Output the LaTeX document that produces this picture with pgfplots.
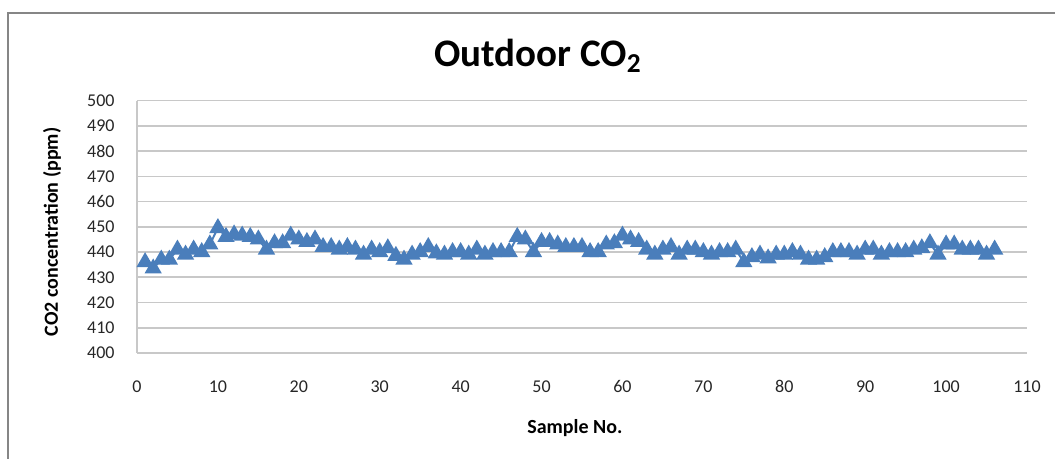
\documentclass[border=0pt]{standalone}
\usepackage{fontspec}
\setmainfont{Carlito}
\usepackage{pgfplots}
\pgfplotsset{compat=1.18}

\definecolor{xlblue}{RGB}{74,126,187}
\definecolor{gridgray}{RGB}{200,200,200}
\definecolor{framegray}{RGB}{134,134,134}

\begin{document}
\begin{tikzpicture}
  % page is the size of the reference, at 0.5pt per pixel
  \useasboundingbox (0,0) rectangle (527.5pt,229.5pt);
  \draw[framegray, line width=1pt] (4pt,-20pt) rectangle (560pt,223pt);

  \begin{axis}[
    at={(68.5pt,53pt)}, anchor=south west,
    scale only axis,
    width=445pt, height=126.2pt,
    xmin=0, xmax=110, ymin=400, ymax=500,
    xtick distance=10, ytick distance=10,
    axis x line*=bottom, axis y line*=left,
    axis line style={gridgray, line width=0.8pt, -},
    ymajorgrids,
    grid style={gridgray, line width=0.8pt},
    major tick length=0pt,
    /pgf/number format/assume math mode=true,
    ticklabel style={font=\fontsize{9}{10}\selectfont, text=black!85},
    xticklabel style={anchor=base, inner sep=0pt, yshift=-20pt},
    yticklabel style={anchor=east, inner sep=0pt, xshift=-11pt},
    title={Outdoor CO\textsubscript{2}},
    title style={at={(axis description cs:0.4506,1.088)}, anchor=base,
      font=\bfseries\fontsize{19.5}{22}\selectfont},
    xlabel={Sample No.},
    xlabel style={at={(axis description cs:0.492,-0.298)}, anchor=center,
      font=\bfseries\fontsize{10}{12}\selectfont},
    ylabel={CO2 concentration (ppm)},
    ylabel style={at={(axis description cs:-0.0955,0.48)}, anchor=center,
      font=\bfseries\fontsize{10}{12}\selectfont},
    clip=false,
  ]
    \addplot[xlblue, line width=1pt, mark=triangle*, mark size=4pt,
      mark options={fill=xlblue, draw=xlblue}] coordinates {
      (1,436) (2,433.5) (3,437) (4,437) (5,441) (6,439) (7,441) (8,440)
      (9,443) (10,449.5) (11,446) (12,447) (13,446.5) (14,446) (15,445)
      (16,441) (17,443.5) (18,443.5) (19,446.5) (20,445) (21,444) (22,445)
      (23,442) (24,442) (25,441) (26,442) (27,441) (28,439) (29,441)
      (30,440) (31,441.5) (32,438.5) (33,437) (34,439) (35,440) (36,442)
      (37,439.5) (38,439) (39,440) (40,440) (41,439) (42,441) (43,439)
      (44,440) (45,440) (46,440) (47,446) (48,445) (49,440) (50,444)
      (51,444) (52,443) (53,442) (54,442) (55,442) (56,440) (57,440)
      (58,443) (59,443.5) (60,446.5) (61,445) (62,444) (63,441) (64,439)
      (65,441) (66,442) (67,439) (68,441) (69,441) (70,440) (71,439)
      (72,440) (73,440) (74,441) (75,436) (76,438) (77,439) (78,437.5)
      (79,439) (80,439) (81,440) (82,439) (83,437) (84,437) (85,438)
      (86,440) (87,440) (88,440) (89,439) (90,441) (91,441) (92,439)
      (93,440) (94,440) (95,440) (96,441) (97,441.5) (98,443.5) (99,439)
      (100,443) (101,443) (102,441) (103,441) (104,441) (105,439) (106,441)
    };
  \end{axis}
\end{tikzpicture}
\end{document}
